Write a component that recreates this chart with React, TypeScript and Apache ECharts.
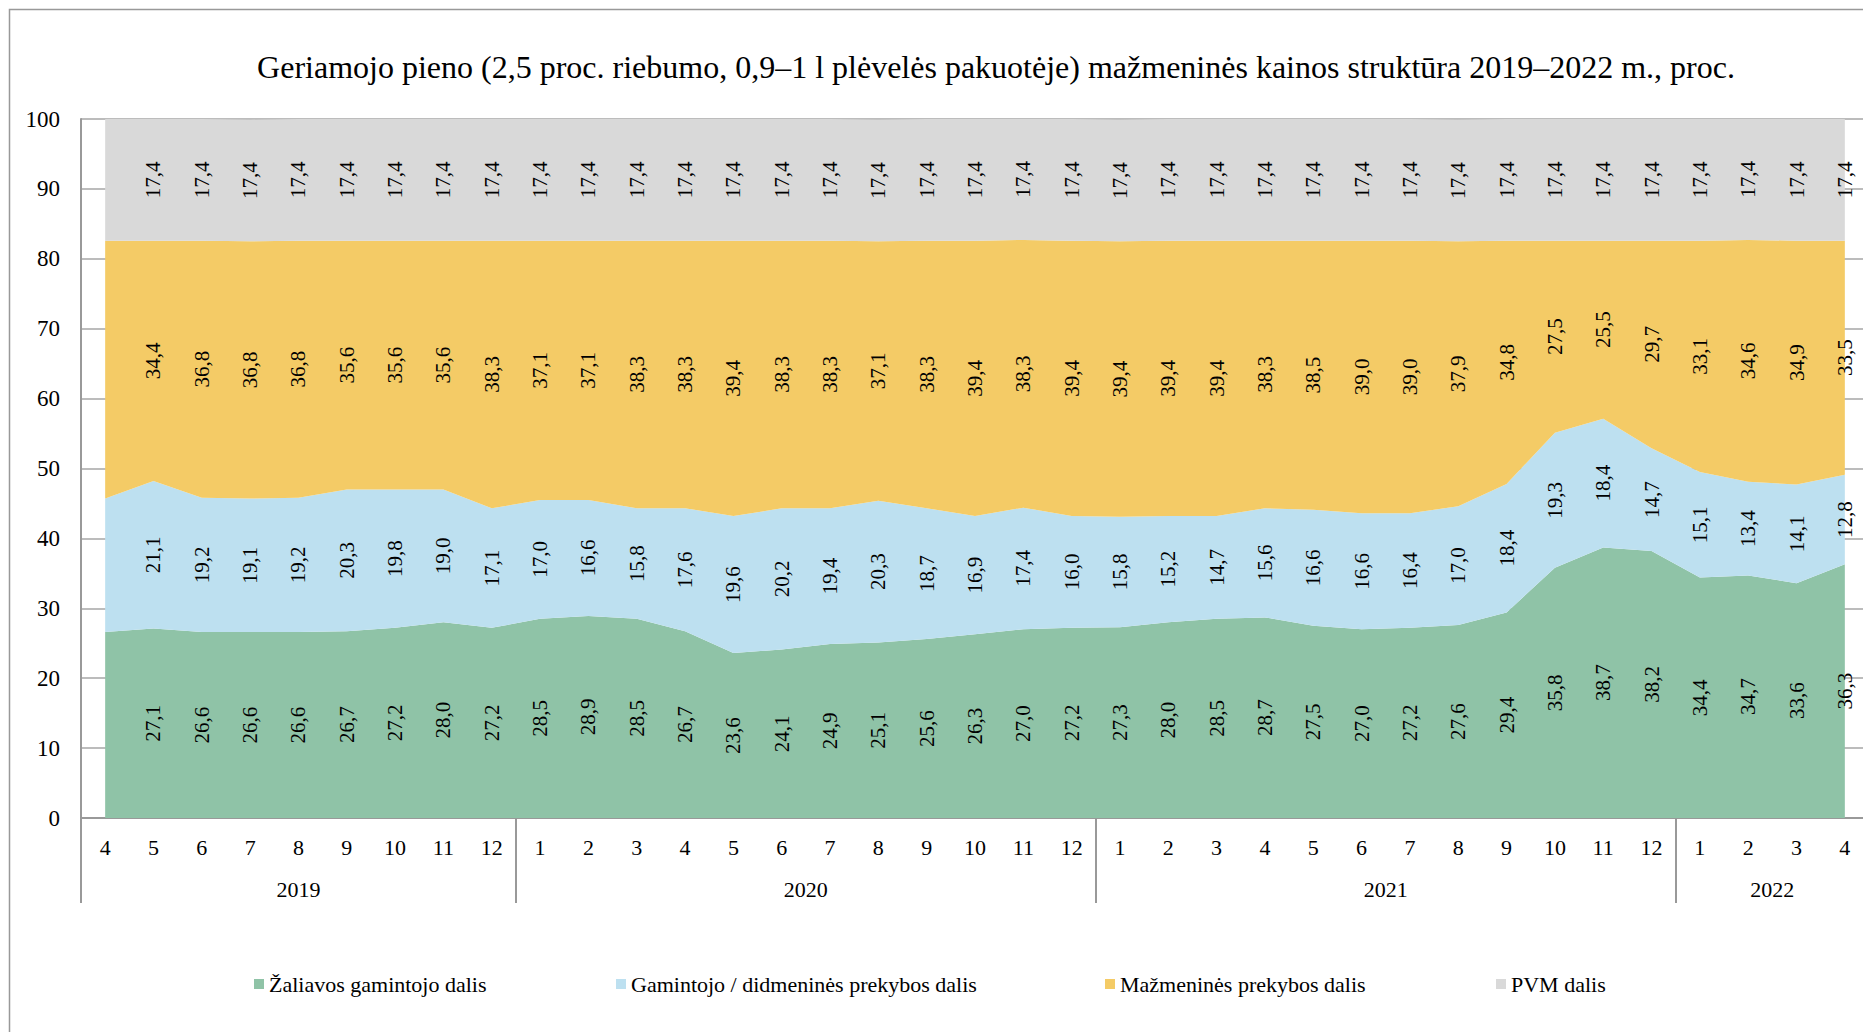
import React, { useEffect, useRef } from 'react';
import * as echarts from 'echarts';

const FONT = "'Liberation Serif', 'Times New Roman', serif";

const titleText =
  'Geriamojo pieno (2,5 proc. riebumo, 0,9–1 l plėvelės pakuotėje) mažmeninės kainos struktūra 2019–2022 m., proc.';

const months2019 = ['4', '5', '6', '7', '8', '9', '10', '11', '12'];
const months2020 = ['1', '2', '3', '4', '5', '6', '7', '8', '9', '10', '11', '12'];
const months2021 = ['1', '2', '3', '4', '5', '6', '7', '8', '9', '10', '11', '12'];
const months2022 = ['1', '2', '3', '4'];
const categories = [...months2019, ...months2020, ...months2021, ...months2022];

const yearLabels = ['2019', '2020', '2021', '2022'];
const yearCounts = [months2019.length, months2020.length, months2021.length, months2022.length];

const seriesNames = [
  'Žaliavos gamintojo dalis',
  'Gamintojo / didmeninės prekybos dalis',
  'Mažmeninės prekybos dalis',
  'PVM dalis',
];

const zaliavos = [
  26.6, 27.1, 26.6, 26.6, 26.6, 26.7, 27.2, 28.0, 27.2,
  28.5, 28.9, 28.5, 26.7, 23.6, 24.1, 24.9, 25.1, 25.6, 26.3, 27.0, 27.2,
  27.3, 28.0, 28.5, 28.7, 27.5, 27.0, 27.2, 27.6, 29.4, 35.8, 38.7, 38.2,
  34.4, 34.7, 33.6, 36.3,
];
const gamintojo = [
  19.1, 21.1, 19.2, 19.1, 19.2, 20.3, 19.8, 19.0, 17.1,
  17.0, 16.6, 15.8, 17.6, 19.6, 20.2, 19.4, 20.3, 18.7, 16.9, 17.4, 16.0,
  15.8, 15.2, 14.7, 15.6, 16.6, 16.6, 16.4, 17.0, 18.4, 19.3, 18.4, 14.7,
  15.1, 13.4, 14.1, 12.8,
];
const mazmenines = [
  36.9, 34.4, 36.8, 36.8, 36.8, 35.6, 35.6, 35.6, 38.3,
  37.1, 37.1, 38.3, 38.3, 39.4, 38.3, 38.3, 37.1, 38.3, 39.4, 38.3, 39.4,
  39.4, 39.4, 39.4, 38.3, 38.5, 39.0, 39.0, 37.9, 34.8, 27.5, 25.5, 29.7,
  33.1, 34.6, 34.9, 33.5,
];
const pvm = [
  17.4, 17.4, 17.4, 17.4, 17.4, 17.4, 17.4, 17.4, 17.4,
  17.4, 17.4, 17.4, 17.4, 17.4, 17.4, 17.4, 17.4, 17.4, 17.4, 17.4, 17.4,
  17.4, 17.4, 17.4, 17.4, 17.4, 17.4, 17.4, 17.4, 17.4, 17.4, 17.4, 17.4,
  17.4, 17.4, 17.4, 17.4,
];

const yTicks = [0, 10, 20, 30, 40, 50, 60, 70, 80, 90, 100];

const colors = ['#8FC3A7', '#BDE0F0', '#F4CB66', '#D9D9D9'];

export default function App() {
  const ref = useRef<HTMLDivElement>(null);

  useEffect(() => {
    const el = ref.current!;
    const chart = echarts.init(el, null, { renderer: 'svg' });
    const allData = [zaliavos, gamintojo, mazmenines, pvm];

    const boundaries = new Set<number>();
    let acc = 0;
    yearCounts.forEach((c) => {
      boundaries.add(acc);
      acc += c;
    });

    const fmt = (v: number) => v.toFixed(1).replace('.', ',');

    const areaSeries = allData.map((d, i) => ({
      name: seriesNames[i],
      type: 'line',
      stack: 'area',
      data: d,
      symbol: 'none',
      color: colors[i],
      itemStyle: { color: colors[i] },
      lineStyle: { width: 0, color: colors[i] },
      areaStyle: { color: colors[i], opacity: 1 },
      silent: true,
      z: 2,
    }));

    const labelSeries = allData.map((d, i) => ({
      name: 'lbl' + i,
      type: 'bar',
      stack: 'labels',
      data: d,
      barWidth: '60%',
      itemStyle: { color: 'rgba(0,0,0,0)' },
      silent: true,
      z: 5,
      label: {
        show: true,
        position: 'inside',
        rotate: 90,
        color: '#000',
        fontFamily: FONT,
        fontSize: 21,
        formatter: (p: any) => (p.dataIndex === 0 ? '' : fmt(p.value)),
      },
    }));

    const legendLefts = [254, 616, 1105, 1496];

    const option: any = {
      animation: false,
      backgroundColor: '#fff',
      grid: { left: 81, top: 119, width: 1788, height: 699, outerBoundsMode: 'none', containLabel: false },
      xAxis: [
        {
          type: 'category',
          data: categories,
          boundaryGap: true,
          position: 'bottom',
          axisLine: { show: true, lineStyle: { color: '#999', width: 2 } },
          axisTick: { show: false },
          axisLabel: {
            interval: 0,
            margin: 18,
            color: '#000',
            fontFamily: FONT,
            fontSize: 22,
          },
          splitLine: { show: false },
        },
        {
          type: 'category',
          data: categories,
          boundaryGap: true,
          position: 'bottom',
          axisLine: { show: false },
          axisLabel: { show: false },
          axisTick: {
            show: true,
            length: 85,
            interval: (idx: number) => boundaries.has(idx),
            lineStyle: { color: '#999', width: 2 },
          },
          splitLine: { show: false },
        },
      ],
      yAxis: {
        type: 'value',
        min: yTicks[0],
        max: yTicks[yTicks.length - 1],
        interval: yTicks[1] - yTicks[0],
        axisLine: { show: true, lineStyle: { color: '#999', width: 2 } },
        axisTick: { show: false },
        axisLabel: {
          margin: 21,
          color: '#000',
          fontFamily: FONT,
          fontSize: 23,
        },
        splitLine: { show: true, lineStyle: { color: '#A6A6A6', width: 1.5 } },
      },
      legend: seriesNames.map((n, i) => ({
        data: [n],
        left: legendLefts[i],
        top: 973,
        icon: 'rect',
        itemWidth: 10,
        itemHeight: 10,
        padding: 0,
        selectedMode: false,
        textStyle: { color: '#000', fontFamily: FONT, fontSize: 22 },
      })),
      series: [...areaSeries, ...labelSeries],
      graphic: [
        {
          type: 'rect',
          id: 'frame',
          silent: true,
          shape: { x: 9.5, y: 9.5, width: 3000, height: 3000 },
          style: { fill: 'none', stroke: '#999', lineWidth: 1.5 },
        },
        {
          type: 'text',
          id: 'title',
          x: 996,
          y: 67,
          style: {
            text: titleText,
            fill: '#000',
            font: `32px ${FONT}`,
            textAlign: 'center',
            textVerticalAlign: 'middle',
          },
        },
      ],
    };

    chart.setOption(option);

    const px = (i: number) => chart.convertToPixel({ xAxisIndex: 0 }, i) as number;
    let start = 0;
    const years = yearLabels.map((y, k) => {
      const end = start + yearCounts[k] - 1;
      const cx = (px(start) + px(end)) / 2;
      start = end + 1;
      return {
        type: 'text',
        id: 'year' + k,
        x: cx,
        y: 889,
        style: {
          text: y,
          fill: '#000',
          font: `22px ${FONT}`,
          textAlign: 'center',
          textVerticalAlign: 'middle',
        },
      };
    });
    chart.setOption({ graphic: years });

    return () => chart.dispose();
  }, []);

  return (
    <div
      ref={ref}
      style={{ position: 'fixed', left: 0, top: 0, width: 1863, height: 1032, background: '#fff' }}
    />
  );
}
